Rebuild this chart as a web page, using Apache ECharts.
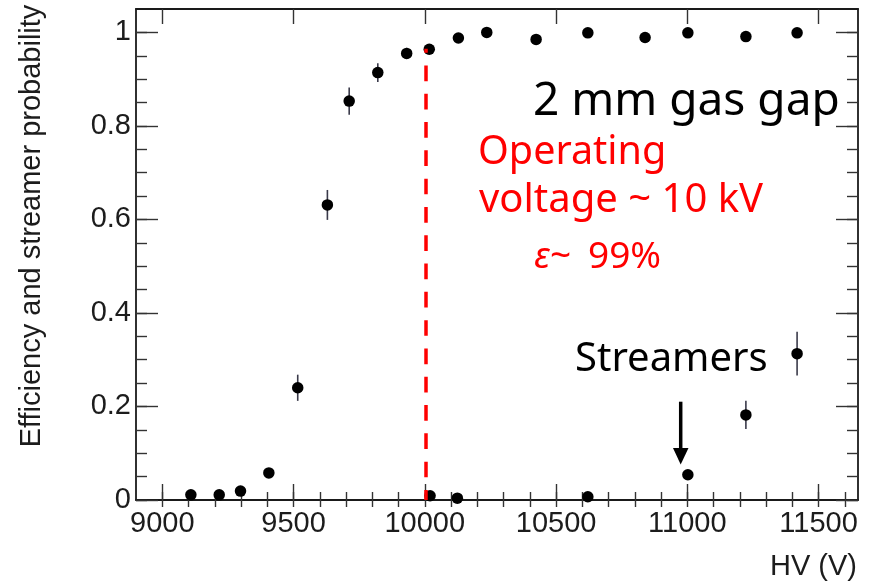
<!DOCTYPE html>
<html>
<head>
<meta charset="utf-8">
<script src="https://cdn.jsdelivr.net/npm/echarts@6/dist/echarts.min.js"></script>
<style>
  html, body { margin: 0; padding: 0; background: #ffffff; }
  #chart { width: 871px; height: 585px; }
</style>
</head>
<body>
<div id="chart"></div>
<script>
// Efficiency vs high voltage (2 mm gas gap RPC)
const hvEff = [9109, 9217, 9298, 9406, 9516, 9629, 9712, 9821, 9931, 10017, 10128, 10236, 10424, 10621, 10839, 11002, 11223, 11418];
const effValues = [0.011, 0.011, 0.019, 0.058, 0.240, 0.631, 0.853, 0.914, 0.955, 0.964, 0.988, 1.000, 0.985, 0.999, 0.989, 0.999, 0.991, 0.999];
const effErrors = [0.004, 0.004, 0.005, 0.008, 0.028, 0.032, 0.029, 0.020, 0.012, 0.010, 0.006, 0.003, 0.006, 0.003, 0.005, 0.003, 0.005, 0.003];

// Streamer probability vs high voltage
const hvStreamer = [10020, 10124, 10621, 11002, 11223, 11418];
const streamerValues = [0.009, 0.004, 0.007, 0.054, 0.182, 0.313];
const streamerErrors = [0.004, 0.003, 0.004, 0.010, 0.030, 0.047];

// Tick labels
const xTickValues = [9000, 9500, 10000, 10500, 11000, 11500];
const yTickValues = [0, 0.2, 0.4, 0.6, 0.8, 1];

// Operating point marker
const operatingVoltage = 10005;
const operatingEfficiency = 0.965;

const xMin = 8900, xMax = 11650, yMin = 0, yMax = 1.05;

const xMinorTicks = [];
for (let v = 9000; v <= 11600; v += 100) xMinorTicks.push(v);
const yMinorTicks = [];
for (let k = 0; k <= 20; k++) yMinorTicks.push(+(k * 0.05).toFixed(2));

const frameLine = { show: true, onZero: false, lineStyle: { color: '#1a1a1a', width: 1.8 } };
const tickStyle = { color: '#333', width: 1.4 };
const labelFont = { fontFamily: 'Liberation Sans', fontSize: 29, color: '#1c1c1c' };

function xAxisDef(position, ticks, len, withLabels, withLine) {
  return {
    type: 'value', position: position, min: xMin, max: xMax,
    axisLine: withLine ? frameLine : { show: false },
    axisTick: { show: true, inside: true, length: len, customValues: ticks, lineStyle: tickStyle },
    axisLabel: withLabels
      ? Object.assign({ show: true, margin: 9, customValues: xTickValues,
          formatter: v => String(v) }, labelFont)
      : { show: false },
    splitLine: { show: false }
  };
}
function yAxisDef(position, ticks, len, withLabels, withLine) {
  return {
    type: 'value', position: position, min: yMin, max: yMax,
    axisLine: withLine ? frameLine : { show: false },
    axisTick: { show: true, inside: true, length: len, customValues: ticks, lineStyle: tickStyle },
    axisLabel: withLabels
      ? Object.assign({ show: true, margin: 5, customValues: yTickValues,
          formatter: v => String(+v.toFixed(2)) }, labelFont)
      : { show: false },
    splitLine: { show: false }
  };
}

function errorBarSeries(xs, ys, es) {
  return {
    type: 'custom',
    xAxisIndex: 0, yAxisIndex: 0,
    z: 2,
    encode: { x: 0, y: 1 },
    data: xs.map((x, i) => [x, ys[i], es[i]]),
    renderItem: function (params, api) {
      const x = api.value(0), y = api.value(1), e = api.value(2);
      const lo = api.coord([x, y - e]);
      const hi = api.coord([x, y + e]);
      return {
        type: 'line',
        shape: { x1: lo[0], y1: lo[1], x2: hi[0], y2: hi[1] },
        style: { stroke: '#3a3a4a', lineWidth: 1.6 }
      };
    }
  };
}

const pointStyle = { color: '#000000', opacity: 1 };

const option = {
  backgroundColor: '#ffffff',
  animation: false,
  grid: { left: 136, right: 13, top: 9, bottom: 85 },
  xAxis: [
    xAxisDef('bottom', xTickValues, 16, true, true),
    xAxisDef('bottom', xMinorTicks, 8, false, false),
    xAxisDef('top', xTickValues, 15, false, true),
    xAxisDef('top', xMinorTicks, 7, false, false)
  ],
  yAxis: [
    yAxisDef('left', yTickValues, 22, true, true),
    yAxisDef('left', yMinorTicks, 11, false, false),
    yAxisDef('right', yTickValues, 22, false, true),
    yAxisDef('right', yMinorTicks, 11, false, false)
  ],
  series: [
    errorBarSeries(hvEff, effValues, effErrors),
    errorBarSeries(hvStreamer, streamerValues, streamerErrors),
    {
      name: 'Efficiency', type: 'scatter', xAxisIndex: 0, yAxisIndex: 0, z: 3,
      symbol: 'circle', symbolSize: 11.5, itemStyle: pointStyle,
      data: hvEff.map((x, i) => [x, effValues[i]])
    },
    {
      name: 'Streamer probability', type: 'scatter', xAxisIndex: 0, yAxisIndex: 0, z: 3,
      symbol: 'circle', symbolSize: 11.5, itemStyle: pointStyle,
      data: hvStreamer.map((x, i) => [x, streamerValues[i]])
    },
    {
      name: 'Operating voltage', type: 'line', xAxisIndex: 0, yAxisIndex: 0, z: 5,
      data: [], silent: true,
      markLine: {
        silent: true, symbol: ['none', 'none'], label: { show: false },
        lineStyle: { color: '#ff0000', width: 3.5, type: [15.7, 12.6], dashOffset: 11.6 },
        data: [[
          { coord: [operatingVoltage, operatingEfficiency] },
          { coord: [operatingVoltage, 0] }
        ]]
      }
    }
  ],
  graphic: [
    {
      type: 'text', rotation: Math.PI / 2, x: 32, y: 226, z: 10,
      style: { text: 'Efficiency and streamer probability', fontFamily: 'Liberation Sans',
        fontSize: 29, fill: '#1c1c1c', textAlign: 'center', textVerticalAlign: 'middle' }
    },
    {
      type: 'text', x: 857, y: 567, z: 10,
      style: { text: 'HV (V)', fontFamily: 'Liberation Sans', fontSize: 29, fill: '#1c1c1c',
        textAlign: 'right', textVerticalAlign: 'middle' }
    },
    {
      type: 'text', x: 533, y: 101.5, z: 10,
      style: { text: '2 mm gas gap', fontFamily: 'Noto Sans', fontSize: 46, fill: '#000000',
        textAlign: 'left', textVerticalAlign: 'middle' }
    },
    {
      type: 'text', x: 478, y: 153, z: 10,
      style: { text: 'Operating', fontFamily: 'Noto Sans', fontSize: 39.5, fill: '#ff0000',
        textAlign: 'left', textVerticalAlign: 'middle' }
    },
    {
      type: 'text', x: 479, y: 201, z: 10,
      style: { text: 'voltage ~ 10 kV', fontFamily: 'Noto Sans', fontSize: 40, fill: '#ff0000',
        textAlign: 'left', textVerticalAlign: 'middle' }
    },
    {
      type: 'text', x: 534, y: 257.5, z: 10,
      style: { text: 'ε', fontFamily: 'Noto Sans', fontStyle: 'italic', fontSize: 37, fill: '#ff0000',
        textAlign: 'left', textVerticalAlign: 'middle' }
    },
    {
      type: 'text', x: 550, y: 257.5, z: 10,
      style: { text: '~', fontFamily: 'Noto Sans', fontSize: 37, fill: '#ff0000',
        textAlign: 'left', textVerticalAlign: 'middle' }
    },
    {
      type: 'text', x: 588, y: 257.5, z: 10,
      style: { text: '99%', fontFamily: 'Noto Sans', fontSize: 37, fill: '#ff0000',
        textAlign: 'left', textVerticalAlign: 'middle' }
    },
    {
      type: 'text', x: 575, y: 359.5, z: 10,
      style: { text: 'Streamers', fontFamily: 'Noto Sans', fontSize: 40, fill: '#000000',
        textAlign: 'left', textVerticalAlign: 'middle' }
    },
    {
      type: 'line', z: 10,
      shape: { x1: 680.7, y1: 401.7, x2: 680.7, y2: 452 },
      style: { stroke: '#000000', lineWidth: 3.5 }
    },
    {
      type: 'polygon', z: 10,
      shape: { points: [[673, 448], [688.5, 448], [680.7, 464.5]] },
      style: { fill: '#000000' }
    }
  ]
};

const chart = echarts.init(document.getElementById('chart'), null, { renderer: 'canvas' });
chart.setOption(option);
</script>
</body>
</html>
